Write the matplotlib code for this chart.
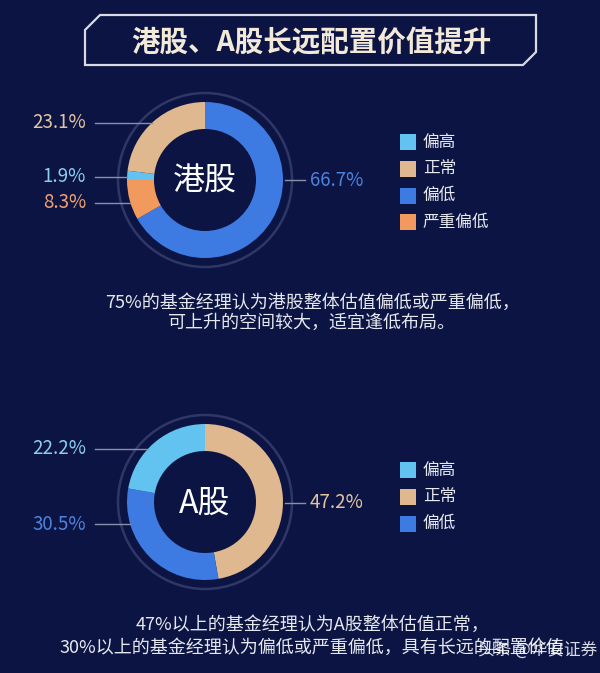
import matplotlib
matplotlib.use("Agg")
import numpy as np
import matplotlib.pyplot as plt
from matplotlib.patches import Circle, Polygon, Rectangle

plt.rcParams["font.family"] = ["Noto Sans CJK SC", "DejaVu Sans"]

W, H = 600, 673
BG = "#0b1442"

# ---- data ----
TITLE = "港股、A股长远配置价值提升"
CATEGORIES = ["偏高", "正常", "偏低", "严重偏低"]
COLORS = ["#62c3f0", "#dfb88f", "#3d7be3", "#f29a5e"]
LABEL_COLORS = ["#8ccdf2", "#e3c4a2", "#4d83e0", "#f0a174"]

hk_values = [1.9, 23.1, 66.7, 8.3]
hk_order = [2, 3, 0, 1]          # clockwise from 12 o'clock
a_values = [22.2, 47.2, 30.5]
a_order = [1, 2, 0]

hk_caption = ["75%的基金经理认为港股整体估值偏低或严重偏低，",
              "可上升的空间较大，适宜逢低布局。"]
a_caption = ["47%以上的基金经理认为A股整体估值正常，",
             "30%以上的基金经理认为偏低或严重偏低，具有长远的配置价值"]

# ---- layout (pixel coords, y from top) ----
R, R_IN, R_OUT = 78, 51, 87
CX = 205
panels = [
    dict(name="港股", values=hk_values, order=hk_order, cy=180,
         label_y={0: 177, 1: 123, 2: 180, 3: 203},
         right={2}, legend_y=142, caption=hk_caption, cap_y=[303, 323]),
    dict(name="A股", values=a_values, order=a_order, cy=502,
         label_y={0: 449, 1: 503, 2: 524},
         right={1}, legend_y=470, caption=a_caption, cap_y=[625, 648]),
]


def Y(y):
    return H - y


fig = plt.figure(figsize=(W / 100, H / 100), dpi=100, facecolor=BG)
ax = fig.add_axes([0, 0, 1, 1])
ax.set_facecolor(BG)

# title box with chamfered corners
box = [(85, 30), (100, 15), (536, 15), (536, 52), (523, 65), (85, 65)]
ax.add_patch(Polygon([(x, Y(y)) for x, y in box], closed=True, fill=False,
                     edgecolor="#d9dae4", lw=1.6))
ax.text(311, Y(42), TITLE, ha="center", va="center", fontsize=20.5,
        fontweight="bold", color="#f3e9d8")

for p in panels:
    vals = [p["values"][i] for i in p["order"]]
    cols = [COLORS[i] for i in p["order"]]
    cy = Y(p["cy"])
    ax.pie(vals, colors=cols, startangle=90, counterclock=False, radius=R,
           center=(CX, cy), wedgeprops=dict(width=R - R_IN, linewidth=0))
    ax.add_patch(Circle((CX, cy), R_OUT, fill=False, edgecolor="#2f3766", lw=1.8))
    ax.text(CX, cy - 2, p["name"], ha="center", va="center", fontsize=23,
            color="white")

    # value labels with leader lines
    for i, v in enumerate(p["values"]):
        ly = p["label_y"][i]
        dy = ly - p["cy"]
        edge = np.sqrt(R ** 2 - dy ** 2)
        if i in p["right"]:
            ax.plot([CX + edge + 2, 305], [Y(ly)] * 2, color="#8a90aa", lw=1)
            ax.text(310, Y(ly), f"{v}%", ha="left", va="center", fontsize=13.5,
                    color=LABEL_COLORS[i])
        else:
            ax.plot([95, CX - edge], [Y(ly)] * 2, color="#8a90aa", lw=1)
            ax.text(86, Y(ly), f"{v}%", ha="right", va="center", fontsize=13.5,
                    color=LABEL_COLORS[i])

    # legend
    for k in range(len(p["values"])):
        ry = p["legend_y"] + k * 26.8
        ax.add_patch(Rectangle((400, Y(ry) - 8), 16, 16, color=COLORS[k], lw=0))
        ax.text(423, Y(ry), CATEGORIES[k], ha="left", va="center",
                fontsize=12, color="#e8eaf2")

    for line, y in zip(p["caption"], p["cap_y"]):
        ax.text(312, Y(y), line, ha="center", va="center", fontsize=13,
                color="#e6e8f0")

ax.text(478, Y(650), "头条 @华安证券", ha="left", va="center", fontsize=12,
        color="white", alpha=0.85)

ax.set_xlim(0, W)
ax.set_ylim(0, H)
ax.set_aspect("equal")
ax.axis("off")
fig.savefig("out.png", dpi=100, facecolor=BG)
